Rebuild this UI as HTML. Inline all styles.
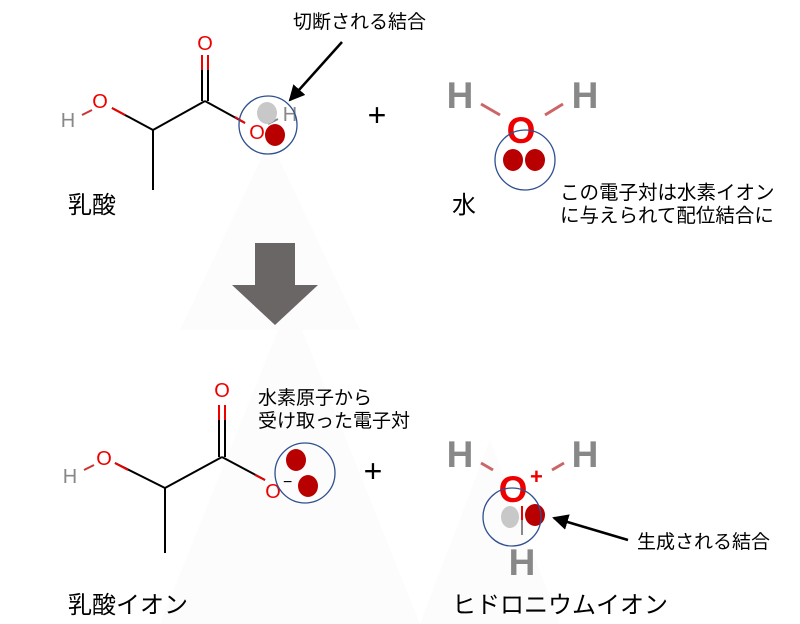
<!DOCTYPE html>
<html><head><meta charset="utf-8"><style>body{margin:0;background:#fff}svg{display:block}text{font-family:"Liberation Sans","Noto Sans CJK JP",sans-serif}</style></head><body>
<svg width="800" height="624" viewBox="0 0 800 624" xmlns="http://www.w3.org/2000/svg">
<defs><marker id="ah" markerWidth="20" markerHeight="20" refX="14" refY="8" orient="auto" markerUnits="userSpaceOnUse"><path d="M0,0 L16,8 L0,16 z" fill="#000"/></marker></defs>
<g fill="#fcfcfc"><path d="M270 140 L360 330 L180 330 z"/><path d="M290 300 L420 624 L160 624z"/><path d="M490 440 L560 624 L420 624z"/></g>
<!-- top lactic acid -->
<g stroke="#000" stroke-width="2" fill="none">
<line x1="82" y1="115" x2="92" y2="110" stroke="#c33"/>
<line x1="112" y1="108" x2="153" y2="130"/><line x1="112" y1="108" x2="125" y2="115" stroke="#e00"/>
<line x1="153" y1="130" x2="153" y2="190"/>
<line x1="153" y1="130" x2="205" y2="101"/>
<line x1="202" y1="101" x2="202" y2="55"/><line x1="208" y1="101" x2="208" y2="55"/>
<line x1="202" y1="55" x2="202" y2="70" stroke="#e00"/><line x1="208" y1="55" x2="208" y2="70" stroke="#e00"/>
<line x1="205" y1="101" x2="245" y2="123"/><line x1="235" y1="117" x2="245" y2="123" stroke="#e00"/>
<line x1="268" y1="124" x2="278" y2="119" stroke="#888"/>
</g>
<text x="68" y="127" font-size="20" fill="#888" text-anchor="middle">H</text>
<text x="100" y="108" font-size="20" fill="#e00" text-anchor="middle">O</text>
<text x="205" y="50" font-size="20" fill="#e00" text-anchor="middle">O</text>
<text x="257" y="139" font-size="20" fill="#e00" text-anchor="middle">O</text>
<text x="290" y="121" font-size="20" fill="#888" text-anchor="middle">H</text>
<ellipse cx="267" cy="113" rx="10" ry="11" fill="#c8c8c8"/>
<ellipse cx="275" cy="135" rx="10" ry="11" fill="#b80000"/>
<circle cx="268" cy="125" r="29" fill="none" stroke="#2f4f8f" stroke-width="1.3"/>
<text x="68" y="213" font-size="24">乳酸</text>
<line x1="342" y1="42" x2="290" y2="100" stroke="#000" stroke-width="2.5" marker-end="url(#ah)"/>
<text x="293" y="28" font-size="19">切断される結合</text>
<text x="377" y="126" font-size="32" text-anchor="middle">+</text>
<!-- water -->
<line x1="481" y1="104" x2="500" y2="115" stroke="#c66" stroke-width="3"/>
<line x1="545" y1="115" x2="563" y2="104" stroke="#c66" stroke-width="3"/>
<text x="460" y="108" font-size="37" font-weight="bold" fill="#888" text-anchor="middle">H</text>
<text x="585" y="108" font-size="37" font-weight="bold" fill="#888" text-anchor="middle">H</text>
<text x="521" y="143" font-size="37" font-weight="bold" fill="#e00" text-anchor="middle">O</text>
<ellipse cx="513" cy="160" rx="10" ry="11" fill="#b80000"/>
<ellipse cx="535" cy="160" rx="10" ry="11" fill="#b80000"/>
<circle cx="525" cy="160" r="30" fill="none" stroke="#2f4f8f" stroke-width="1.3"/>
<text x="452" y="213" font-size="24">水</text>
<text x="560" y="199" font-size="19.5">この電子対は水素イオン</text>
<text x="560" y="222" font-size="19.5">に与えられて配位結合に</text>
<!-- big arrow -->
<path d="M255 243 H295 V285 H318 L275 325 L232 285 H255 z" fill="#6b6666"/>
<!-- bottom lactate -->
<g stroke="#000" stroke-width="2" fill="none">
<line x1="84" y1="470" x2="94" y2="465" stroke="#c33"/>
<line x1="115" y1="463" x2="165" y2="488"/><line x1="115" y1="463" x2="128" y2="470" stroke="#e00"/>
<line x1="165" y1="488" x2="165" y2="553"/>
<line x1="165" y1="488" x2="222" y2="457"/>
<line x1="219" y1="457" x2="219" y2="405"/><line x1="225" y1="457" x2="225" y2="405"/>
<line x1="219" y1="405" x2="219" y2="420" stroke="#e00"/><line x1="225" y1="405" x2="225" y2="420" stroke="#e00"/>
<line x1="222" y1="457" x2="265" y2="480"/><line x1="255" y1="475" x2="265" y2="480" stroke="#e00"/>
</g>
<text x="70" y="483" font-size="20" fill="#888" text-anchor="middle">H</text>
<text x="104" y="465" font-size="20" fill="#e00" text-anchor="middle">O</text>
<text x="222" y="397" font-size="20" fill="#e00" text-anchor="middle">O</text>
<text x="273" y="498" font-size="20" fill="#e00" text-anchor="middle">O</text>
<text x="283" y="487" font-size="16" fill="#000">−</text>
<ellipse cx="296" cy="460" rx="10" ry="11" fill="#b80000"/>
<ellipse cx="308" cy="486" rx="10" ry="11" fill="#b80000"/>
<circle cx="305" cy="473" r="30" fill="none" stroke="#2f4f8f" stroke-width="1.3"/>
<text x="258" y="404" font-size="19">水素原子から</text>
<text x="258" y="427" font-size="19">受け取った電子対</text>
<text x="68" y="613" font-size="24">乳酸イオン</text>
<text x="373" y="482" font-size="32" text-anchor="middle">+</text>
<!-- hydronium -->
<line x1="481" y1="463" x2="493" y2="470" stroke="#c66" stroke-width="3"/>
<line x1="552" y1="470" x2="564" y2="463" stroke="#c66" stroke-width="3"/>
<text x="460" y="467" font-size="37" font-weight="bold" fill="#888" text-anchor="middle">H</text>
<text x="585" y="467" font-size="37" font-weight="bold" fill="#888" text-anchor="middle">H</text>
<text x="513" y="502" font-size="37" font-weight="bold" fill="#e00" text-anchor="middle">O</text>
<text x="530" y="484" font-size="22" fill="#e00" font-weight="bold">+</text>
<ellipse cx="510" cy="517" rx="9" ry="11" fill="#c8c8c8"/>
<ellipse cx="535" cy="515" rx="10" ry="11" fill="#b80000"/>
<line x1="522" y1="506" x2="522" y2="528" stroke="#e00" stroke-width="2"/>
<line x1="522" y1="520" x2="522" y2="535" stroke="#888" stroke-width="2"/>
<circle cx="512" cy="517" r="29" fill="none" stroke="#2f4f8f" stroke-width="1.3"/>
<text x="522" y="575" font-size="37" font-weight="bold" fill="#888" text-anchor="middle">H</text>
<line x1="628" y1="540" x2="554" y2="518" stroke="#000" stroke-width="2.5" marker-end="url(#ah)"/>
<text x="637" y="548" font-size="19">生成される結合</text>
<text x="452" y="613" font-size="24">ヒドロニウムイオン</text>
</svg>
</body></html>
